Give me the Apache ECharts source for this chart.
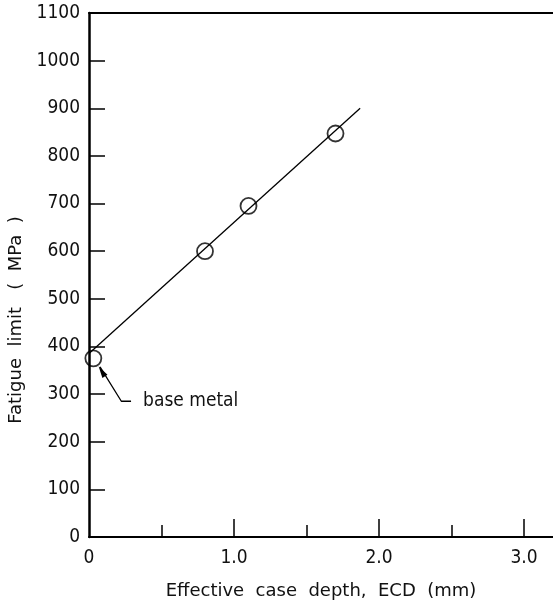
<!DOCTYPE html>
<html>
<head>
<meta charset="utf-8">
<style>
  html, body { margin: 0; padding: 0; background: #fff; }
  #chart { width: 553px; height: 606px; }
</style>
<script src="https://cdn.jsdelivr.net/npm/echarts@6/dist/echarts.min.js"></script>
</head>
<body>
<div id="chart"></div>
<script>
// measured points (ECD in mm, fatigue limit in MPa)
const depthPts = [0.03, 0.8, 1.1, 1.7];
const limitPts = [375, 600, 695, 847];

// fitted straight line, end points
const fitX = [0, 1.87];
const fitY = [385, 900];

// leader line for the "base metal" note
const leaderX = [0.076, 0.223, 0.29];
const leaderY = [357, 285, 285];
const noteText = 'base metal';

// x axis: labelled major ticks and small half-way ticks
const xMajor = [0, 1, 2, 3];
const xMinor = [0.5, 1.5, 2.5];
const xTickLabels = { 0: '0', 1: '1.0', 2: '2.0', 3: '3.0' };

const font = 'DejaVu Sans Condensed';
const nameFont = 'DejaVu Sans';

const chart = echarts.init(document.getElementById('chart'));

const option = {
    backgroundColor: '#fff',
    animation: false,
    grid: { left: 89, right: 0, top: 13, bottom: 69, outerBoundsMode: 'none' },
    xAxis: [
        {
            type: 'value',
            min: 0,
            max: 3.2,
            interval: 1,
            name: 'Effective  case  depth,  ECD  (mm)',
            nameLocation: 'middle',
            nameGap: 45,
            nameTextStyle: { fontFamily: nameFont, fontSize: 18, color: '#111' },
            axisLine: { show: true, onZero: false, lineStyle: { color: '#000', width: 2 } },
            axisTick: {
                show: true, inside: true, length: 18, customValues: xMajor.slice(1),
                lineStyle: { color: '#000', width: 1.5 }
            },
            splitLine: { show: false },
            axisLabel: {
                margin: 12,
                fontFamily: font,
                fontSize: 19,
                color: '#111',
                customValues: xMajor,
                formatter: v => xTickLabels[v] !== undefined ? xTickLabels[v] : ''
            }
        },
        {
            // short half-way ticks
            type: 'value',
            position: 'bottom',
            min: 0,
            max: 3.2,
            axisLine: { show: false, onZero: false },
            axisTick: {
                show: true, inside: true, length: 12, customValues: xMinor,
                lineStyle: { color: '#000', width: 1.5 }
            },
            axisLabel: { show: false },
            splitLine: { show: false }
        },
        {
            // top frame line
            type: 'value',
            position: 'top',
            min: 0,
            max: 3.2,
            axisLine: { show: true, onZero: false, lineStyle: { color: '#000', width: 2 } },
            axisTick: { show: false },
            axisLabel: { show: false },
            splitLine: { show: false }
        }
    ],
    yAxis: {
        type: 'value',
        min: 0,
        max: 1100,
        interval: 100,
        name: 'Fatigue  limit   (  MPa  )',
        nameLocation: 'middle',
        nameGap: 64,
        nameTextStyle: { fontFamily: nameFont, fontSize: 18, color: '#111', padding: [0, 90, 0, 0] },
        axisLine: { show: true, lineStyle: { color: '#000', width: 2.5 } },
        axisTick: { show: true, inside: true, length: 16, lineStyle: { color: '#000', width: 1.5 } },
        splitLine: { show: false },
        axisLabel: { margin: 9, fontFamily: font, fontSize: 19, color: '#111', formatter: v => String(v) }
    },
    series: [
        {
            type: 'line',
            data: fitX.map((x, i) => [x, fitY[i]]),
            symbol: 'none',
            lineStyle: { color: '#000', width: 1.3 },
            z: 2
        },
        {
            type: 'scatter',
            data: depthPts.map((x, i) => [x, limitPts[i]]),
            symbol: 'circle',
            symbolSize: 16,
            itemStyle: { color: 'rgba(255,255,255,0)', borderColor: '#000', borderWidth: 1.8 },
            z: 3
        },
        {
            type: 'line',
            data: leaderX.map((x, i) => [x, leaderY[i]]),
            symbol: 'none',
            lineStyle: { color: '#000', width: 1.3 },
            markPoint: {
                symbol: 'triangle',
                symbolSize: [6, 12],
                symbolRotate: 32,
                itemStyle: { color: '#000' },
                label: { show: false },
                data: [{ coord: [0.088, 348] }]
            },
            endLabel: {
                show: true,
                distance: 12,
                fontFamily: font,
                fontSize: 19,
                color: '#111',
                formatter: noteText
            },
            z: 4
        }
    ]
};

chart.setOption(option);
</script>
</body>
</html>
